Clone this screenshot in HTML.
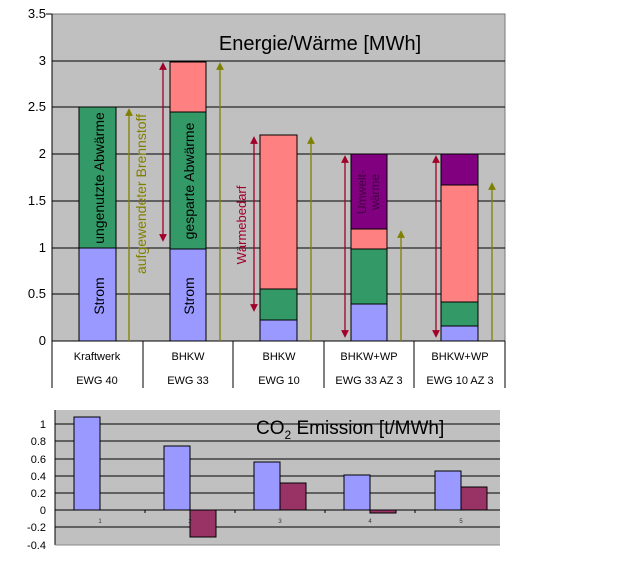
<!DOCTYPE html>
<html><head><meta charset="utf-8"><style>body{margin:0;background:#fff}svg{display:block;font-family:"Liberation Sans",sans-serif}</style></head><body>
<svg width="618" height="565" viewBox="0 0 618 565" xmlns="http://www.w3.org/2000/svg">
<defs>
<marker id="ao" markerWidth="6" markerHeight="6" refX="3" refY="3" orient="auto-start-reverse"><path d="M0,0 L6,3 L0,6 z" fill="#808000"/></marker>
<marker id="ar" markerWidth="6" markerHeight="6" refX="3" refY="3" orient="auto-start-reverse"><path d="M0,0 L6,3 L0,6 z" fill="#a0002a"/></marker>
</defs>
<rect x="52" y="14" width="453" height="327" fill="#c0c0c0" stroke="#777" stroke-width="1"/>
<g stroke="#000" stroke-width="1">
<line x1="52" y1="61" x2="505" y2="61"/><line x1="52" y1="107" x2="505" y2="107"/><line x1="52" y1="154" x2="505" y2="154"/><line x1="52" y1="201" x2="505" y2="201"/><line x1="52" y1="248" x2="505" y2="248"/><line x1="52" y1="294" x2="505" y2="294"/><line x1="52" y1="341" x2="505" y2="341"/>
<line x1="52" y1="14" x2="52" y2="388"/>
<line x1="143" y1="341" x2="143" y2="388"/><line x1="233" y1="341" x2="233" y2="388"/><line x1="324" y1="341" x2="324" y2="388"/><line x1="414" y1="341" x2="414" y2="388"/><line x1="505" y1="341" x2="505" y2="388"/>
<line x1="46" y1="14" x2="52" y2="14"/>
</g>
<g font-size="13" text-anchor="end" fill="#000">
<text x="46" y="18">3.5</text><text x="46" y="65">3</text><text x="46" y="111">2.5</text><text x="46" y="158">2</text><text x="46" y="205">1.5</text><text x="46" y="252">1</text><text x="46" y="298">0.5</text><text x="46" y="345">0</text>
</g>
<g stroke="#000" stroke-width="1">
<rect x="79" y="248" width="37" height="93" fill="#9999ff"/><rect x="79" y="107" width="37" height="141" fill="#339966"/>
<rect x="170" y="249" width="36" height="92" fill="#9999ff"/><rect x="170" y="112" width="36" height="137" fill="#339966"/><rect x="170" y="62" width="36" height="50" fill="#ff8080"/>
<rect x="260" y="320" width="37" height="21" fill="#9999ff"/><rect x="260" y="289" width="37" height="31" fill="#339966"/><rect x="260" y="135" width="37" height="154" fill="#ff8080"/>
<rect x="351" y="304" width="36" height="37" fill="#9999ff"/><rect x="351" y="249" width="36" height="55" fill="#339966"/><rect x="351" y="229" width="36" height="20" fill="#ff8080"/><rect x="351" y="154" width="36" height="75" fill="#800080"/>
<rect x="441" y="326" width="37" height="15" fill="#9999ff"/><rect x="441" y="302" width="37" height="24" fill="#339966"/><rect x="441" y="185" width="37" height="117" fill="#ff8080"/><rect x="441" y="154" width="37" height="31" fill="#800080"/>
</g>
<g stroke="#808000" stroke-width="1.3">
<line x1="129" y1="341" x2="129" y2="112" marker-end="url(#ao)"/>
<line x1="220" y1="341" x2="220" y2="66" marker-end="url(#ao)"/>
<line x1="311" y1="341" x2="311" y2="140" marker-end="url(#ao)"/>
<line x1="401" y1="341" x2="401" y2="234" marker-end="url(#ao)"/>
<line x1="492" y1="341" x2="492" y2="186" marker-end="url(#ao)"/>
</g>
<g stroke="#a0002a" stroke-width="1.3">
<line x1="163" y1="238" x2="163" y2="66" marker-start="url(#ar)" marker-end="url(#ar)"/>
<line x1="254" y1="308" x2="254" y2="140" marker-start="url(#ar)" marker-end="url(#ar)"/>
<line x1="345" y1="334" x2="345" y2="159" marker-start="url(#ar)" marker-end="url(#ar)"/>
<line x1="436" y1="334" x2="436" y2="159" marker-start="url(#ar)" marker-end="url(#ar)"/>
</g>
<g font-size="14" fill="#000">
<text transform="translate(104,178) rotate(-90)" text-anchor="middle">ungenutzte Abwärme</text>
<text transform="translate(104,296) rotate(-90)" text-anchor="middle">Strom</text>
<text transform="translate(194,181) rotate(-90)" text-anchor="middle">gesparte Abwärme</text>
<text transform="translate(194,296) rotate(-90)" text-anchor="middle">Strom</text>
<text transform="translate(146,194) rotate(-90)" text-anchor="middle" fill="#808000">aufgewendeter Brennstoff</text>
<text transform="translate(246,225) rotate(-90)" text-anchor="middle" fill="#a0002a" font-size="13">Wärmebedarf</text>
</g>
<g font-size="12" fill="#400040" text-anchor="middle">
<text transform="translate(366,192) rotate(-90)">Umwelt-</text>
<text transform="translate(379,192) rotate(-90)">wärme</text>
</g>
<text x="320" y="50" font-size="20" text-anchor="middle">Energie/Wärme [MWh]</text>
<g font-size="11" text-anchor="middle">
<text x="97" y="360">Kraftwerk</text><text x="188" y="360">BHKW</text><text x="279" y="360">BHKW</text><text x="369" y="360">BHKW+WP</text><text x="460" y="360">BHKW+WP</text>
<text x="97" y="384">EWG 40</text><text x="188" y="384">EWG 33</text><text x="279" y="384">EWG 10</text><text x="369" y="384">EWG 33 AZ 3</text><text x="460" y="384">EWG 10 AZ 3</text>
</g>
<rect x="55" y="410" width="445" height="135" fill="#c0c0c0"/>
<g stroke="#000" stroke-width="1">
<line x1="55" y1="424" x2="500" y2="424"/><line x1="55" y1="441" x2="500" y2="441"/><line x1="55" y1="459" x2="500" y2="459"/><line x1="55" y1="476" x2="500" y2="476"/><line x1="55" y1="493" x2="500" y2="493"/><line x1="55" y1="510" x2="500" y2="510"/><line x1="55" y1="527" x2="500" y2="527"/>
<line x1="55" y1="410" x2="55" y2="545"/>
<line x1="145" y1="510" x2="145" y2="513"/><line x1="235" y1="510" x2="235" y2="513"/><line x1="325" y1="510" x2="325" y2="513"/><line x1="415" y1="510" x2="415" y2="513"/>
</g>
<line x1="55" y1="545" x2="500" y2="545" stroke="#888"/>
<g font-size="11" text-anchor="end">
<text x="46" y="428">1</text><text x="46" y="445">0.8</text><text x="46" y="463">0.6</text><text x="46" y="480">0.4</text><text x="46" y="497">0.2</text><text x="46" y="514">0</text><text x="46" y="531">-0.2</text><text x="46" y="549">-0.4</text>
</g>
<g stroke="#000" stroke-width="1">
<rect x="74" y="417" width="26" height="93" fill="#9999ff"/>
<rect x="164" y="446" width="26" height="64" fill="#9999ff"/><rect x="190" y="510" width="26" height="27" fill="#993366"/>
<rect x="254" y="462" width="26" height="48" fill="#9999ff"/><rect x="280" y="483" width="26" height="27" fill="#993366"/>
<rect x="344" y="475" width="26" height="35" fill="#9999ff"/><rect x="370" y="510" width="26" height="3" fill="#993366"/>
<rect x="435" y="471" width="26" height="39" fill="#9999ff"/><rect x="461" y="487" width="26" height="23" fill="#993366"/>
</g>
<g font-size="6" text-anchor="middle" fill="#333">
<text x="100" y="523">1</text><text x="190" y="523">2</text><text x="280" y="523">3</text><text x="370" y="523">4</text><text x="461" y="523">5</text>
</g>
<text x="256" y="434" font-size="19">CO<tspan font-size="12" dy="5">2</tspan><tspan dy="-5"> Emission [t/MWh]</tspan></text>
</svg>
</body></html>
